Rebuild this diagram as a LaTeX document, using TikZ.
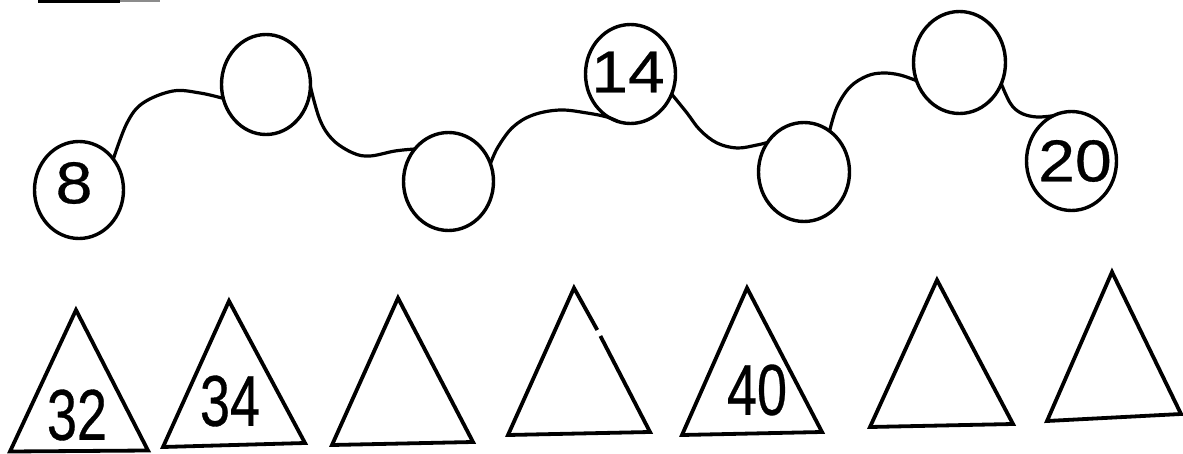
\documentclass[tikz,border=0pt]{standalone}
\usepackage{fontspec}
\setmainfont{Liberation Sans}
\newfontfamily\digitfont[FakeBold=0.5]{Liberation Sans}
\usetikzlibrary{shapes.geometric}
\tikzset{
  ring/.style={ellipse, draw, line width=3.4pt, inner sep=0pt, outer sep=0pt},
  cnum/.style={font=\digitfont\fontsize{59}{59}\selectfont, inner sep=0pt, outer sep=0pt},
  tnum/.style={font=\digitfont\fontsize{72}{72}\selectfont, inner sep=0pt, outer sep=0pt},
  link/.style={line width=3.2pt, line join=round, line cap=round},
  tri/.style={line width=3.8pt, line join=miter},
}
\newcommand{\wide}[1]{\scalebox{1.12}[1]{#1}}
\newcommand{\narrowtxt}[1]{\scalebox{0.75}[1]{#1}}
\begin{document}
\begin{tikzpicture}[x=1pt,y=1pt]
\useasboundingbox (0,0) rectangle (1183,453);
% top bar
\draw[line width=3pt] (38,451.5) -- (120,451.5);
\draw[line width=2pt, black!45] (120,451.5) -- (160,451.5);
% circles
\node[ring, minimum width=89pt, minimum height=97pt] (c1) at (79,263) {};
\node[ring, minimum width=89pt, minimum height=100pt] (c2) at (266,368.5) {};
\node[ring, minimum width=90pt, minimum height=98pt] (c3) at (448.5,271.5) {};
\node[ring, minimum width=90pt, minimum height=99pt] (c4) at (630.5,379) {};
\node[ring, minimum width=91pt, minimum height=99pt] (c5) at (804,281) {};
\node[ring, minimum width=92pt, minimum height=102pt] (c6) at (959.5,390.5) {};
\node[ring, minimum width=90pt, minimum height=99pt] (c7) at (1071.5,292) {};
\node[cnum] (n8) at (74,270) {\wide{8}};
\node[cnum] (n14) at (628,381) {\wide{14}};
\node[cnum] (n20) at (1075,292) {\wide{20}};
% connectors
\draw[link] plot[smooth, tension=0.6] coordinates {(c1.42) (127,330) (143,350) (173,362) (200,360) (c2.198)};
\draw[link] plot[smooth, tension=0.6] coordinates {(c2.357) (320,333) (333,313) (353,300) (370,297) (395,302) (c3.136)};
\draw[link] plot[smooth, tension=0.6] coordinates {(c3.23) (498,306) (513,326) (533,338) (560,343) (587,340) (607,336) (c4.256)};
\draw[link] plot[smooth, tension=0.6] coordinates {(c4.334) (687,340) (700,323) (717,310) (737,305) (757,308) (c5.141)};
\draw[link] plot[smooth, tension=0.6] coordinates {(c5.58) (837,346) (850,366) (867,377) (883,380) (900,378) (c6.203)};
\draw[link] plot[smooth, tension=0.6] coordinates {(c6.333) (1007,356) (1013,346) (1023,339) (1037,336) (c7.112)};
% triangles
\draw[tri] (76,143) -- (148,2.5) -- (10,1.5) -- cycle;
\draw[tri] (229,152) -- (305,10) -- (163,6) -- cycle;
\draw[tri] (398,155) -- (473,11) -- (332,8) -- cycle;
\draw[tri] (597.3,123) -- (574,165) -- (508,18) -- (650,21) -- (600.4,117);
\draw[tri] (747,165) -- (822,21) -- (682,18) -- cycle;
\draw[tri] (937,173) -- (1013,29) -- (870,26) -- cycle;
\draw[tri] (1112,181) -- (1181,39) -- (1047,32) -- cycle;
\node[tnum] (t32) at (77,38) {\narrowtxt{32}};
\node[tnum] (t34) at (230,52) {\narrowtxt{34}};
\node[tnum] (t40) at (757,63) {\narrowtxt{40}};
\end{tikzpicture}
\end{document}
